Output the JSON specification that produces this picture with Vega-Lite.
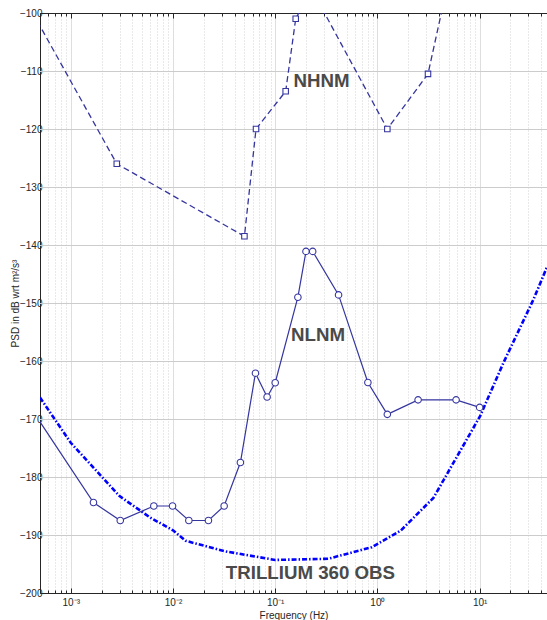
{
  "$schema": "https://vega.github.io/schema/vega-lite/v6.json",
  "width": 507,
  "height": 580,
  "autosize": {"type": "none"},
  "padding": {"left": 40, "top": 13, "right": 0, "bottom": 27},
  "background": "white",
  "config": {
    "view": {"stroke": null},
    "font": "Liberation Sans",
    "axis": {
      "domainColor": "#262626",
      "labelColor": "#262626",
      "tickColor": "#262626",
      "titleColor": "#262626",
      "labelFont": "Liberation Sans",
      "titleFont": "Liberation Sans",
      "labelFontSize": 10,
      "titleFontSize": 10,
      "titleFontWeight": "normal",
      "gridColor": "#d2d2d2",
      "gridOpacity": 1,
      "gridWidth": 1
    }
  },
  "datasets": {
    "ygrid": [
      {"psd": -190}, {"psd": -180}, {"psd": -170}, {"psd": -160}, {"psd": -150},
      {"psd": -140}, {"psd": -130}, {"psd": -120}, {"psd": -110}
    ],
    "nhnm": [
      {"f": 0.00001, "psd": -48.5},
      {"f": 0.002818, "psd": -126.0},
      {"f": 0.05, "psd": -138.5},
      {"f": 0.0649, "psd": -120.0},
      {"f": 0.1266, "psd": -113.5},
      {"f": 0.1587, "psd": -101.0},
      {"f": 0.2174, "psd": -96.5},
      {"f": 0.2632, "psd": -98.0},
      {"f": 1.25, "psd": -120.0},
      {"f": 3.125, "psd": -110.5},
      {"f": 4.545, "psd": -97.4},
      {"f": 10, "psd": -91.5}
    ],
    "nlnm": [
      {"f": 0.00001, "psd": -103.1},
      {"f": 0.0001, "psd": -151.9},
      {"f": 0.001667, "psd": -184.4},
      {"f": 0.003049, "psd": -187.5},
      {"f": 0.006494, "psd": -185.0},
      {"f": 0.009901, "psd": -185.0},
      {"f": 0.01429, "psd": -187.5},
      {"f": 0.02222, "psd": -187.5},
      {"f": 0.03165, "psd": -185.0},
      {"f": 0.04566, "psd": -177.5},
      {"f": 0.0641, "psd": -162.1},
      {"f": 0.08333, "psd": -166.2},
      {"f": 0.1, "psd": -163.75},
      {"f": 0.1667, "psd": -149.0},
      {"f": 0.2, "psd": -141.1},
      {"f": 0.2326, "psd": -141.1},
      {"f": 0.4167, "psd": -148.6},
      {"f": 0.8065, "psd": -163.7},
      {"f": 1.25, "psd": -169.2},
      {"f": 2.5, "psd": -166.7},
      {"f": 5.882, "psd": -166.7},
      {"f": 10, "psd": -168.0}
    ],
    "trillium": [
      {"f": 0.0005, "psd": -166.3},
      {"f": 0.001, "psd": -174.1},
      {"f": 0.003, "psd": -183.3},
      {"f": 0.006, "psd": -187.0},
      {"f": 0.01, "psd": -189.2},
      {"f": 0.0133, "psd": -191.0},
      {"f": 0.032, "psd": -192.8},
      {"f": 0.1, "psd": -194.3},
      {"f": 0.33, "psd": -194.1},
      {"f": 0.88, "psd": -192.1},
      {"f": 1.7, "psd": -189.2},
      {"f": 3.53, "psd": -183.6},
      {"f": 10.1, "psd": -169.5},
      {"f": 17.1, "psd": -160.3},
      {"f": 33.6, "psd": -149.4},
      {"f": 45.6, "psd": -143.8}
    ],
    "labels": [
      {"f": 0.284, "psd": -111.7, "text": "NHNM"},
      {"f": 0.262, "psd": -155.6, "text": "NLNM"},
      {"f": 0.221, "psd": -196.6, "text": "TRILLIUM 360 OBS"}
    ]
  },
  "resolve": {"axis": {"x": "independent", "y": "independent"}},
  "layer": [
    {
      "data": {"name": "trillium"},
      "mark": {"type": "line", "color": "#0000ff", "strokeWidth": 2.6, "clip": true, "opacity": 0},
      "encoding": {
        "x": {
          "field": "f", "type": "quantitative",
          "scale": {"type": "log", "domain": [0.0005, 45.6], "nice": false},
          "axis": {
            "orient": "bottom",
            "title": "Frequency (Hz)",
            "titlePadding": 1,
            "values": [0.0005, 0.0006, 0.0007, 0.0008, 0.0009, 0.001, 0.002, 0.003, 0.004, 0.005, 0.006, 0.007, 0.008, 0.009, 0.01, 0.02, 0.03, 0.04, 0.05, 0.06, 0.07, 0.08, 0.09, 0.1, 0.2, 0.3, 0.4, 0.5, 0.6, 0.7, 0.8, 0.9, 1, 2, 3, 4, 5, 6, 7, 8, 9, 10, 20, 30, 40],
            "labelExpr": "datum.value == 0.001 ? '10⁻³' : datum.value == 0.01 ? '10⁻²' : datum.value == 0.1 ? '10⁻¹' : datum.value == 1 ? '10⁰' : datum.value == 10 ? '10¹' : ''",
            "labelPadding": 9,
            "labelFlush": false,
            "labelOverlap": false,
            "grid": true,
            "gridDash": {"condition": {"test": "indexof([0.001, 0.01, 0.1, 1, 10], datum.value) < 0", "value": [1, 2]}, "value": [1, 0]},
            "tickSize": {"condition": {"test": "indexof([0.001, 0.01, 0.1, 1, 10], datum.value) < 0", "value": -3}, "value": -5}
          }
        },
        "y": {
          "field": "psd", "type": "quantitative",
          "scale": {"domain": [-200, -100], "nice": false, "zero": false},
          "axis": {
            "orient": "left",
            "title": "PSD in dB wrt m²/s³",
            "values": [-200, -190, -180, -170, -160, -150, -140, -130, -120, -110, -100],
            "grid": false,
            "tickSize": {"condition": {"test": "datum.value > 0", "value": -3}, "value": -5},
            "labelPadding": 3,
            "titlePadding": -1
          }
        }
      }
    },
    {
      "data": {"name": "ygrid"},
      "mark": {"type": "rule", "color": "#cccccc", "strokeWidth": 1.2, "yOffset": 0.5},
      "encoding": {
        "y": {"field": "psd", "type": "quantitative", "axis": null}
      }
    },
    {
      "data": {"name": "trillium"},
      "mark": {"type": "line", "color": "#0000ff", "strokeWidth": 2.6, "strokeDash": [5, 2, 1.5, 2], "clip": true},
      "encoding": {
        "x": {"field": "f", "type": "quantitative", "axis": null},
        "y": {"field": "psd", "type": "quantitative", "axis": null}
      }
    },
    {
      "data": {"name": "nhnm"},
      "mark": {"type": "line", "color": "#3535a0", "strokeWidth": 1.3, "strokeDash": [6, 3.5], "clip": true},
      "encoding": {
        "x": {"field": "f", "type": "quantitative", "axis": null},
        "y": {"field": "psd", "type": "quantitative", "axis": null}
      }
    },
    {
      "data": {"name": "nhnm"},
      "mark": {"type": "point", "shape": "square", "filled": false, "fill": "white", "fillOpacity": 1, "stroke": "#3535a0", "strokeWidth": 1.1, "size": 30, "opacity": 1, "clip": true},
      "encoding": {
        "x": {"field": "f", "type": "quantitative", "axis": null},
        "y": {"field": "psd", "type": "quantitative", "axis": null}
      }
    },
    {
      "data": {"name": "nlnm"},
      "mark": {"type": "line", "color": "#3535a0", "strokeWidth": 1.2, "clip": true},
      "encoding": {
        "x": {"field": "f", "type": "quantitative", "axis": null},
        "y": {"field": "psd", "type": "quantitative", "axis": null}
      }
    },
    {
      "data": {"name": "nlnm"},
      "mark": {"type": "point", "shape": "circle", "filled": false, "fill": "white", "fillOpacity": 1, "stroke": "#3535a0", "strokeWidth": 1.1, "size": 42, "opacity": 1, "clip": true},
      "encoding": {
        "x": {"field": "f", "type": "quantitative", "axis": null},
        "y": {"field": "psd", "type": "quantitative", "axis": null}
      }
    },
    {
      "data": {"name": "labels"},
      "mark": {"type": "text", "font": "Liberation Sans", "fontWeight": "bold", "fontSize": 18.7, "color": "#4a4a4a", "align": "center", "baseline": "middle"},
      "encoding": {
        "x": {
          "field": "f", "type": "quantitative",
          "axis": {
            "orient": "top",
            "title": null,
            "labels": false,
            "grid": false,
            "values": [0.0005, 0.0006, 0.0007, 0.0008, 0.0009, 0.001, 0.002, 0.003, 0.004, 0.005, 0.006, 0.007, 0.008, 0.009, 0.01, 0.02, 0.03, 0.04, 0.05, 0.06, 0.07, 0.08, 0.09, 0.1, 0.2, 0.3, 0.4, 0.5, 0.6, 0.7, 0.8, 0.9, 1, 2, 3, 4, 5, 6, 7, 8, 9, 10, 20, 30, 40],
            "tickSize": {"condition": {"test": "indexof([0.001, 0.01, 0.1, 1, 10], datum.value) < 0", "value": -3}, "value": -5}
          }
        },
        "y": {"field": "psd", "type": "quantitative", "axis": null},
        "text": {"field": "text"}
      }
    }
  ]
}
